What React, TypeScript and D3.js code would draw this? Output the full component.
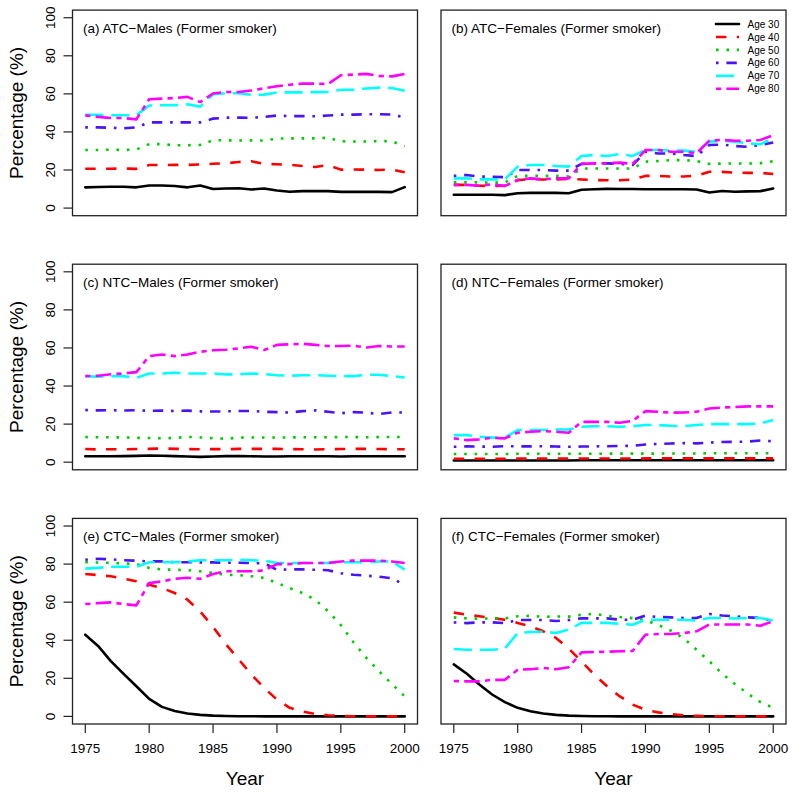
import React from "react";
import * as d3 from "d3";

const years = [1975,1976,1977,1978,1979,1980,1981,1982,1983,1984,1985,1986,1987,1988,1989,1990,1991,1992,1993,1994,1995,1996,1997,1998,1999,2000];
const ageLabels = ["Age 30", "Age 40", "Age 50", "Age 60", "Age 70", "Age 80"];
const yTicks = [0, 20, 40, 60, 80, 100];
const xTicks = [1975, 1980, 1985, 1990, 1995, 2000];

// (a) ATC-Males
const atcMales = [
  [10.9, 11.1, 11.2, 11.2, 10.9, 11.9, 11.9, 11.6, 10.9, 11.9, 10.0, 10.3, 10.4, 9.8, 10.3, 9.2, 8.6, 8.9, 8.9, 8.9, 8.5, 8.5, 8.5, 8.5, 8.4, 11.0],
  [20.7, 20.7, 20.7, 20.8, 20.6, 22.6, 22.6, 22.7, 22.7, 22.9, 23.3, 23.5, 24.2, 24.6, 23.2, 23.0, 22.8, 22.1, 21.6, 22.6, 20.2, 20.3, 20.2, 20.0, 20.3, 18.8],
  [30.5, 30.5, 30.7, 30.5, 30.8, 33.6, 33.6, 33.0, 33.0, 33.2, 35.6, 35.6, 35.5, 35.6, 35.5, 36.5, 36.6, 36.6, 36.6, 37.0, 35.1, 35.0, 35.0, 35.2, 35.1, 32.4],
  [42.4, 42.4, 42.2, 41.9, 42.4, 45.0, 45.0, 45.0, 45.0, 45.0, 47.0, 47.5, 47.5, 47.4, 47.9, 48.6, 48.3, 48.3, 48.2, 48.6, 49.1, 49.1, 49.3, 49.3, 49.1, 47.7],
  [49.0, 49.0, 48.8, 48.8, 48.8, 53.9, 54.0, 54.0, 54.5, 53.3, 59.8, 60.4, 60.3, 59.5, 59.6, 60.7, 60.8, 60.8, 60.9, 61.0, 62.2, 62.2, 62.8, 63.3, 63.1, 61.6],
  [48.7, 47.9, 47.3, 47.3, 46.6, 57.2, 57.5, 57.8, 58.4, 55.7, 60.2, 61.0, 61.0, 61.8, 62.9, 64.0, 64.8, 65.4, 65.4, 65.2, 69.8, 70.1, 70.5, 69.4, 69.2, 70.5],
];

// (b) ATC-Females
const atcFemales = [
  [7.0, 7.0, 7.0, 7.0, 6.8, 7.8, 8.0, 8.0, 8.0, 7.8, 9.6, 9.9, 10.1, 10.0, 10.0, 9.9, 9.9, 9.9, 9.9, 9.8, 8.2, 9.0, 8.6, 8.8, 8.9, 10.3],
  [12.2, 12.2, 11.7, 11.6, 11.8, 14.6, 15.3, 15.0, 15.0, 15.4, 15.0, 14.7, 14.6, 14.6, 15.0, 16.9, 16.9, 16.6, 16.6, 17.0, 19.1, 19.0, 18.6, 18.5, 18.5, 17.9],
  [13.5, 13.5, 13.5, 13.4, 13.4, 16.9, 16.9, 16.9, 16.9, 16.6, 20.8, 20.8, 20.8, 20.8, 20.8, 24.4, 24.7, 25.2, 25.2, 24.7, 23.2, 23.4, 23.4, 23.4, 23.6, 24.6],
  [16.9, 17.4, 16.5, 16.5, 16.2, 20.0, 20.0, 20.0, 19.7, 19.7, 23.2, 23.5, 23.5, 23.2, 22.6, 29.6, 28.7, 28.7, 27.9, 27.3, 33.1, 33.4, 32.6, 32.2, 33.1, 34.4],
  [15.6, 15.6, 15.1, 15.1, 15.1, 21.8, 22.6, 22.6, 22.1, 21.8, 27.4, 27.9, 27.4, 28.4, 27.4, 30.5, 30.5, 30.2, 30.2, 29.6, 34.9, 35.3, 34.9, 34.0, 33.5, 36.8],
  [12.2, 12.2, 11.7, 12.5, 11.6, 14.8, 15.6, 15.1, 15.6, 15.6, 23.2, 23.5, 23.5, 23.9, 23.2, 30.5, 30.5, 29.6, 29.6, 28.8, 35.4, 35.8, 35.4, 35.4, 35.8, 38.3],
];

// (c) NTC-Males
const ntcMales = [
  [3.1, 3.1, 3.1, 3.2, 3.3, 3.5, 3.4, 3.2, 3.0, 2.8, 3.0, 3.2, 3.2, 3.1, 3.0, 3.0, 3.1, 3.1, 3.1, 3.1, 3.0, 3.1, 3.1, 3.1, 3.1, 3.1],
  [6.9, 6.7, 6.8, 6.8, 6.9, 7.0, 7.2, 7.0, 6.9, 6.8, 6.9, 6.8, 7.0, 7.0, 7.0, 7.0, 6.9, 6.8, 6.7, 6.8, 6.9, 7.0, 7.0, 6.9, 6.8, 6.8],
  [13.2, 13.1, 13.1, 13.0, 12.8, 12.7, 12.6, 12.7, 13.3, 13.0, 12.6, 12.3, 12.9, 13.0, 13.0, 13.0, 13.0, 13.1, 13.1, 13.1, 13.2, 13.2, 13.1, 13.2, 13.2, 13.2],
  [27.4, 27.2, 27.3, 27.1, 27.3, 27.0, 27.1, 26.9, 27.1, 26.7, 26.6, 26.7, 26.9, 26.9, 26.5, 26.3, 26.1, 26.8, 27.2, 26.5, 25.7, 26.3, 26.0, 25.3, 26.1, 26.1],
  [45.2, 44.9, 45.2, 45.2, 44.3, 46.6, 46.6, 47.0, 46.6, 46.6, 46.6, 46.1, 46.1, 46.6, 46.3, 45.7, 45.4, 45.7, 45.7, 45.4, 45.2, 45.2, 45.9, 45.9, 45.2, 44.5],
  [45.2, 45.4, 46.2, 46.6, 47.3, 55.7, 56.6, 55.7, 56.6, 58.0, 58.8, 59.1, 59.8, 60.6, 58.9, 61.6, 61.9, 62.2, 61.6, 61.0, 61.0, 61.2, 60.2, 61.0, 60.8, 60.8],
];

// (d) NTC-Females
const ntcFemales = [
  [0.9, 0.9, 0.9, 0.9, 0.9, 0.9, 0.9, 0.9, 0.9, 0.9, 1.0, 1.0, 1.0, 1.0, 1.0, 1.0, 1.0, 1.0, 1.0, 1.0, 1.0, 1.0, 1.0, 1.0, 1.0, 1.0],
  [1.8, 1.8, 1.8, 1.8, 1.8, 1.9, 1.9, 1.9, 1.9, 1.9, 1.9, 1.9, 1.9, 1.9, 1.9, 2.0, 2.0, 2.0, 2.0, 2.0, 2.0, 2.0, 2.0, 2.0, 2.0, 2.0],
  [4.3, 4.3, 4.3, 4.3, 4.3, 4.4, 4.4, 4.4, 4.4, 4.4, 4.4, 4.4, 4.5, 4.5, 4.5, 4.5, 4.5, 4.6, 4.6, 4.6, 4.7, 4.7, 4.7, 4.7, 4.7, 4.7],
  [8.1, 8.3, 8.2, 8.1, 8.4, 8.3, 8.3, 8.4, 8.2, 8.1, 8.2, 8.3, 8.4, 8.5, 8.6, 9.3, 9.6, 9.8, 10.0, 9.9, 10.3, 10.6, 10.7, 10.8, 11.4, 11.0],
  [14.2, 14.2, 13.4, 12.9, 13.0, 16.9, 16.9, 16.9, 17.2, 17.2, 18.6, 18.9, 18.9, 18.6, 18.9, 19.5, 19.5, 19.1, 18.9, 19.5, 20.0, 20.0, 20.0, 20.0, 20.3, 22.1],
  [12.5, 11.6, 12.0, 12.8, 12.5, 15.5, 16.0, 16.3, 16.0, 15.5, 21.2, 21.2, 21.2, 20.7, 21.7, 26.8, 26.5, 26.0, 26.1, 26.5, 28.2, 28.7, 29.0, 29.3, 29.3, 29.3],
];

// (e) CTC-Males
const ctcMales = [
  [42.9, 37.0, 29.0, 22.3, 15.8, 9.2, 5.0, 2.8, 1.5, 0.8, 0.4, 0.2, 0.1, 0.05, 0, 0, 0, 0, 0, 0, 0, 0, 0, 0, 0, 0],
  [74.8, 74.2, 73.6, 72.4, 71.0, 69.2, 67.4, 64.8, 61.3, 55.0, 47.0, 38.0, 30.0, 22.0, 15.0, 8.8, 4.5, 2.5, 1.3, 0.6, 0.3, 0.1, 0, 0, 0, 0],
  [81.0, 80.8, 80.6, 80.4, 80.0, 78.0, 77.2, 77.0, 76.8, 76.2, 75.3, 74.4, 74.2, 73.6, 72.7, 70.1, 67.4, 64.8, 61.3, 55.2, 48.0, 38.8, 30.7, 23.7, 17.0, 10.5],
  [82.3, 82.8, 82.5, 82.0, 81.8, 81.4, 81.4, 81.0, 81.0, 80.9, 80.9, 80.7, 80.7, 80.5, 80.4, 77.0, 77.2, 77.2, 77.0, 76.8, 75.2, 74.4, 73.9, 73.4, 72.5, 69.0],
  [77.6, 78.0, 78.6, 78.6, 78.6, 81.0, 81.0, 81.0, 81.4, 82.0, 82.0, 82.0, 82.3, 82.0, 81.8, 80.6, 80.6, 80.6, 80.6, 80.6, 81.0, 81.0, 81.0, 81.4, 81.4, 77.1],
  [59.0, 59.5, 59.9, 59.0, 58.3, 70.1, 70.9, 72.3, 72.8, 72.3, 74.8, 76.2, 76.2, 76.2, 76.7, 80.0, 80.0, 80.6, 80.6, 80.6, 81.4, 81.8, 81.8, 81.8, 81.4, 80.6],
];

// (f) CTC-Females
const ctcFemales = [
  [27.3, 22.5, 16.8, 11.5, 7.5, 4.5, 2.7, 1.5, 0.8, 0.4, 0.2, 0.1, 0.05, 0, 0, 0, 0, 0, 0, 0, 0, 0, 0, 0, 0, 0],
  [54.5, 53.4, 52.6, 51.7, 50.8, 49.1, 47.3, 44.7, 41.2, 35.6, 28.9, 21.9, 15.8, 10.5, 6.2, 3.5, 2.1, 1.2, 0.6, 0.3, 0.1, 0.05, 0, 0, 0, 0],
  [52.0, 51.5, 51.3, 51.5, 51.5, 52.6, 52.8, 52.3, 52.5, 52.4, 53.4, 53.9, 52.8, 52.2, 51.6, 50.5, 48.0, 45.0, 41.0, 35.0, 29.0, 22.5, 17.0, 12.0, 7.5, 4.5],
  [49.4, 49.0, 49.4, 49.4, 49.0, 50.6, 50.6, 50.6, 50.1, 50.6, 51.5, 51.5, 51.5, 50.8, 50.8, 52.9, 52.2, 52.0, 51.7, 51.7, 53.8, 53.0, 52.6, 52.0, 51.7, 50.0],
  [35.4, 35.0, 35.0, 35.0, 35.6, 43.8, 44.3, 44.5, 43.8, 45.6, 49.1, 49.1, 49.1, 48.6, 48.1, 50.8, 50.8, 50.8, 50.8, 50.3, 51.7, 51.7, 51.4, 51.7, 51.7, 50.3],
  [18.6, 18.4, 18.4, 19.2, 19.2, 24.5, 24.8, 25.4, 24.8, 25.8, 33.6, 33.8, 34.0, 34.2, 34.4, 42.9, 43.3, 43.3, 43.8, 44.7, 48.3, 48.3, 48.3, 48.3, 47.6, 50.0],
];

const panelTitles = [
  "(a) ATC\u2212Males (Former smoker)",
  "(b) ATC\u2212Females (Former smoker)",
  "(c) NTC\u2212Males (Former smoker)",
  "(d) NTC\u2212Females (Former smoker)",
  "(e) CTC\u2212Males (Former smoker)",
  "(f) CTC\u2212Females (Former smoker)",
];
const panelData = [atcMales, atcFemales, ntcMales, ntcFemales, ctcMales, ctcFemales];

const LW = 2.6;
const colors = ["#000000", "#FF0000", "#00CD00", "#4A14F5", "#00FFFF", "#FF00FF"];
const dashUnits = [null, [4, 4], [1, 3], [1, 3, 4, 3], [7, 3], [2, 2, 6, 2]];
const dash = (i: number) => (dashUnits[i] ? dashUnits[i]!.map((u) => u * LW).join(",") : undefined);
const cap = (i: number) => (i === 0 ? "round" : "butt");

const FONT = "'Liberation Sans', Arial, Helvetica, sans-serif";

const colLeft = [72.5, 441];
const panelW = 345;
const rowTop = [10.1, 264.2, 518.4];
const panelH = 205.6;

function Panel({ idx }: { idx: number }) {
  const col = idx % 2;
  const row = Math.floor(idx / 2);
  const x0 = colLeft[col];
  const y0 = rowTop[row];
  const x = d3.scaleLinear().domain([1974, 2001]).range([x0, x0 + panelW]);
  const y = d3.scaleLinear().domain([-4, 104]).range([y0 + panelH, y0]);
  const line = d3
    .line<number>()
    .x((_, i) => x(years[i]))
    .y((v) => y(v));
  const series = panelData[idx];
  return (
    <g>
      {series.map((vals, i) => (
        <path
          key={i}
          d={line(vals) || ""}
          fill="none"
          stroke={colors[i]}
          strokeWidth={LW}
          strokeDasharray={dash(i)}
          strokeLinecap={cap(i)}
          strokeLinejoin="round"
        />
      ))}
      <rect x={x0} y={y0} width={panelW} height={panelH} fill="none" stroke="#222" strokeWidth={1.3} />
      <text x={x0 + 10.5} y={y0 + 22.5} fontSize={13.5} fontFamily={FONT} fill="#000">
        {panelTitles[idx]}
      </text>
      {col === 0 && (
        <g>
          {yTicks.map((t) => (
            <g key={t}>
              <line x1={x0 - 9} x2={x0} y1={y(t)} y2={y(t)} stroke="#222" strokeWidth={1.2} />
              <text
                transform={`translate(${x0 - 17.5},${y(t)}) rotate(-90)`}
                textAnchor="middle"
                fontSize={13.5}
                fontFamily={FONT}
                fill="#000"
              >
                {t}
              </text>
            </g>
          ))}
          <text
            transform={`translate(22.5,${y0 + panelH / 2}) rotate(-90)`}
            textAnchor="middle"
            fontSize={19}
            fontFamily={FONT}
            fill="#000"
          >
            Percentage (%)
          </text>
        </g>
      )}
      {row === 2 && (
        <g>
          {xTicks.map((t) => (
            <g key={t}>
              <line x1={x(t)} x2={x(t)} y1={y0 + panelH} y2={y0 + panelH + 9} stroke="#222" strokeWidth={1.2} />
              <text x={x(t)} y={753} textAnchor="middle" fontSize={13.5} fontFamily={FONT} fill="#000">
                {t}
              </text>
            </g>
          ))}
          <text x={x0 + panelW / 2} y={785} textAnchor="middle" fontSize={19} fontFamily={FONT} fill="#000">
            Year
          </text>
        </g>
      )}
      {idx === 1 && (
        <g>
          {ageLabels.map((lab, i) => {
            const ly = 24 + i * 12.95;
            return (
              <g key={lab}>
                <line
                  x1={716}
                  x2={739}
                  y1={ly}
                  y2={ly}
                  stroke={colors[i]}
                  strokeWidth={LW}
                  strokeDasharray={dash(i)}
                  strokeLinecap={cap(i)}
                />
                <text x={747.5} y={ly + 3.6} fontSize={10} fontFamily={FONT} fill="#000">
                  {lab}
                </text>
              </g>
            );
          })}
        </g>
      )}
    </g>
  );
}

export default function App() {
  return (
    <svg width={795} height={793} style={{ position: "absolute", left: 0, top: 0, background: "#fff" }}>
      <rect x={0} y={0} width={795} height={793} fill="#fff" />
      {[0, 1, 2, 3, 4, 5].map((i) => (
        <Panel key={i} idx={i} />
      ))}
    </svg>
  );
}
